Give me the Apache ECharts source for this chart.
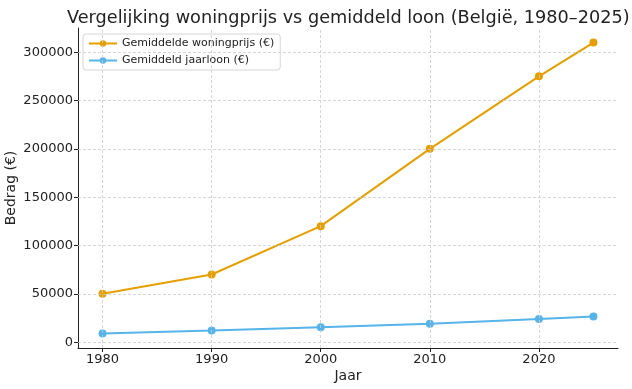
<!DOCTYPE html>
<html>
<head>
<meta charset="utf-8">
<script src="https://cdn.jsdelivr.net/npm/echarts@6/dist/echarts.min.js"></script>
<style>html,body{margin:0;padding:0;background:#fff}#c{width:632px;height:389px}</style>
</head>
<body>
<div id="c"></div>
<script>
var years = [1980, 1990, 2000, 2010, 2020, 2025];
var housePrice = [50000, 70000, 120000, 200000, 275000, 310000];
var wage = [9000, 12000, 15500, 19000, 24000, 26500];
var xTicks = [1980, 1990, 2000, 2010, 2020];
var yTicks = [0, 50000, 100000, 150000, 200000, 250000, 300000];
var seriesNames = ['Gemiddelde woningprijs (€)', 'Gemiddeld jaarloon (€)'];

function pairs(xs, ys) { return xs.map(function (x, i) { return [x, ys[i]]; }); }
function plain(v) { return String(Math.round(v)); }

var font = 'DejaVu Sans';
var gridLineStyle = { color: '#cccccc', type: [3, 2], width: 0.8 };
var gridLines = xTicks.map(function (v) { return { xAxis: v }; })
  .concat(yTicks.map(function (v) { return { yAxis: v }; }));

var chart = echarts.init(document.getElementById('c'), null, { renderer: 'canvas' });
chart.setOption({
  animation: false,
  backgroundColor: '#ffffff',
  textStyle: { fontFamily: font, color: '#222' },
  title: {
    text: 'Vergelijking woningprijs vs gemiddeld loon (België, 1980–2025)',
    left: 62, top: 4,
    textStyle: { fontFamily: font, fontSize: 17.7, fontWeight: 'normal', color: '#222' }
  },
  legend: {
    data: seriesNames,
    orient: 'vertical',
    left: 83, top: 34,
    padding: [4, 6, 4, 5],
    itemWidth: 28, itemHeight: 8, itemGap: 6,
    backgroundColor: 'rgba(255,255,255,0.85)',
    borderColor: '#d6d6d6', borderWidth: 1, borderRadius: 3,
    textStyle: { fontFamily: font, fontSize: 11, color: '#222' }
  },
  grid: { left: 78, right: 14, top: 28, bottom: 41, containLabel: false, outerBoundsMode: 'none' },
  xAxis: {
    type: 'value', min: 1977.75, max: 2027.25,
    name: 'Jaar', nameLocation: 'middle', nameGap: 21, nameMoveOverlap: false,
    nameTextStyle: { fontFamily: font, fontSize: 14, color: '#222' },
    axisLine: { show: true, onZero: false, lineStyle: { color: '#222', width: 1 } },
    axisTick: { show: true, length: 4, customValues: xTicks, lineStyle: { color: '#222' } },
    axisLabel: { customValues: xTicks, formatter: plain, fontFamily: font, fontSize: 13, color: '#222', margin: 5 },
    splitLine: { show: false }
  },
  yAxis: {
    type: 'value', min: -6050, max: 325050,
    name: 'Bedrag (€)', nameLocation: 'middle', nameGap: 60, nameMoveOverlap: false,
    nameTextStyle: { fontFamily: font, fontSize: 14, color: '#222' },
    axisLine: { show: true, lineStyle: { color: '#222', width: 1 } },
    axisTick: { show: true, length: 4, customValues: yTicks, lineStyle: { color: '#222' } },
    axisLabel: { customValues: yTicks, formatter: plain, fontFamily: font, fontSize: 13, color: '#222', margin: 5 },
    splitLine: { show: false }
  },
  series: [
    {
      name: 'grid', type: 'line', data: pairs(years, housePrice), z: 1,
      symbol: 'none', lineStyle: { opacity: 0 }, silent: true,
      markLine: { silent: true, symbol: 'none', label: { show: false }, lineStyle: gridLineStyle, data: gridLines, animation: false }
    },
    {
      name: seriesNames[0], type: 'line', data: pairs(years, housePrice), z: 3,
      color: '#E69F00', symbol: 'circle', symbolSize: 8, lineStyle: { width: 2 }
    },
    {
      name: seriesNames[1], type: 'line', data: pairs(years, wage), z: 3,
      color: '#56B4E9', symbol: 'circle', symbolSize: 8, lineStyle: { width: 2 }
    }
  ]
});
</script>
</body>
</html>
